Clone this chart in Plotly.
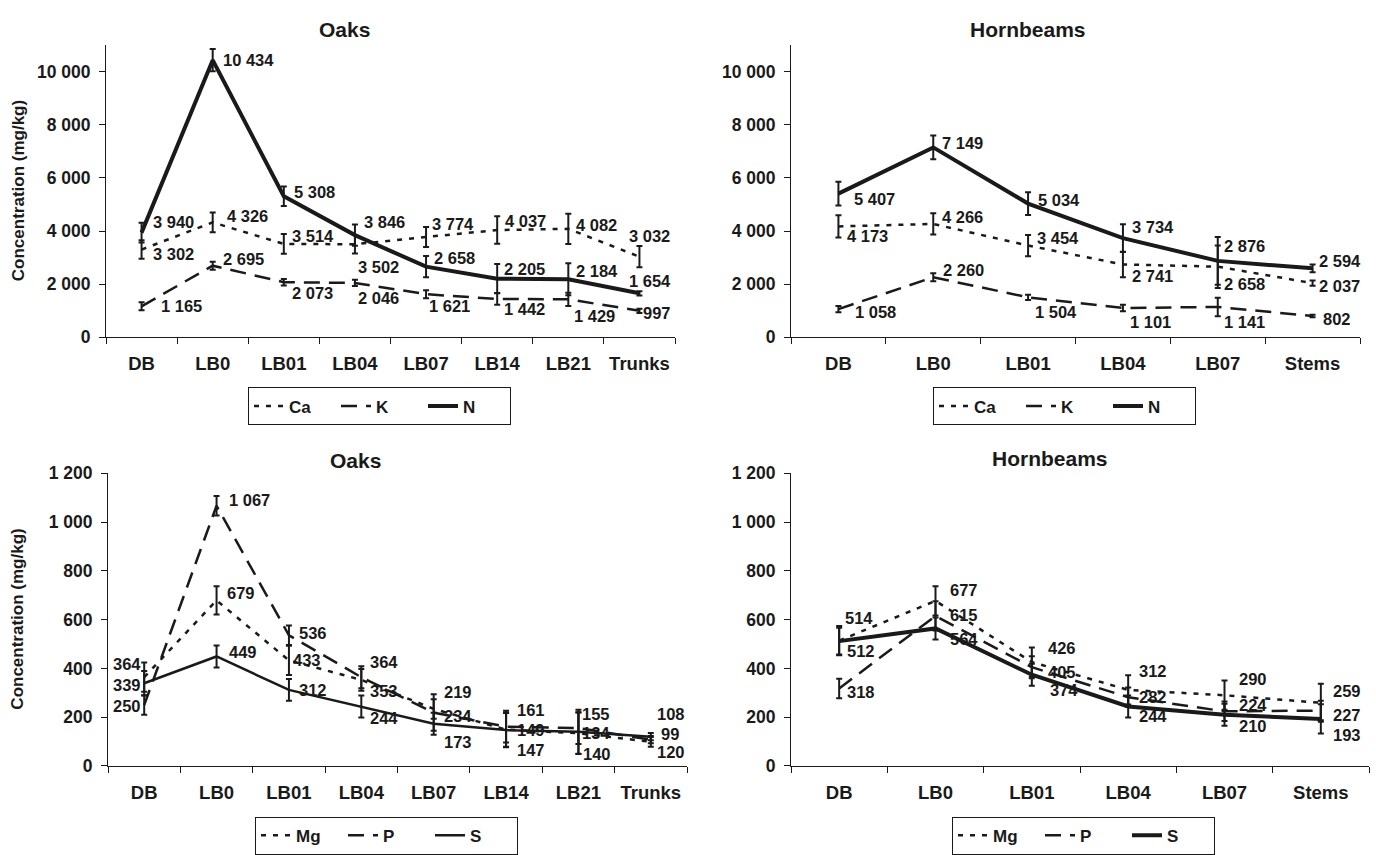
import plotly.graph_objects as go

# ---------------- DATA ----------------
cats_oaks = ["DB", "LB0", "LB01", "LB04", "LB07", "LB14", "LB21", "Trunks"]
cats_horn = ["DB", "LB0", "LB01", "LB04", "LB07", "Stems"]

# Top-left: Oaks (Ca, K, N)
oak_ca = [3302, 4326, 3514, 3502, 3774, 4037, 4082, 3032]
oak_k = [1165, 2695, 2073, 2046, 1621, 1442, 1429, 997]
oak_n = [3940, 10434, 5308, 3846, 2658, 2205, 2184, 1654]
oak_ca_err = [350, 370, 370, 350, 380, 520, 570, 400]
oak_k_err = [150, 150, 120, 120, 150, 220, 250, 80]
oak_n_err = [370, 420, 370, 400, 400, 550, 600, 80]

# Top-right: Hornbeams (Ca, K, N)
horn_ca = [4173, 4266, 3454, 2741, 2658, 2037]
horn_k = [1058, 2260, 1504, 1101, 1141, 802]
horn_n = [5407, 7149, 5034, 3734, 2876, 2594]
horn_ca_err = [420, 400, 400, 480, 800, 100]
horn_k_err = [120, 150, 100, 120, 350, 50]
horn_n_err = [450, 450, 430, 520, 900, 150]

# Bottom-left: Oaks (Mg, P, S)
oak_mg = [364, 679, 433, 353, 234, 149, 134, 99]
oak_p = [250, 1067, 536, 364, 219, 161, 155, 108]
oak_s = [339, 449, 312, 244, 173, 147, 140, 120]
oak_mg_err = [60, 58, 60, 45, 40, 70, 85, 20]
oak_p_err = [40, 40, 40, 45, 75, 65, 65, 15]
oak_s_err = [50, 45, 45, 45, 45, 70, 90, 15]

# Bottom-right: Hornbeams (Mg, P, S)
horn_mg = [514, 677, 426, 312, 290, 259]
horn_p = [318, 615, 405, 282, 224, 227]
horn_s = [512, 564, 374, 244, 210, 193]
horn_mg_err = [60, 60, 60, 60, 60, 78]
horn_p_err = [40, 60, 45, 40, 40, 40]
horn_s_err = [55, 45, 45, 45, 45, 60]

top_ticks = [0, 2000, 4000, 6000, 8000, 10000]
bottom_ticks = [0, 200, 400, 600, 800, 1000, 1200]

# ---------------- STYLE ----------------
W, H = 1376, 855
FONT = "Liberation Sans, Arial, sans-serif"
INK = "#1a1a1a"
DOT = "5px,7px"
LDASH = "16px,9px"

def fmt(v):
    return f"{v:,}".replace(",", " ")

def px_x(p):
    return p / W

def px_y(p):
    return 1 - p / H

# label offsets (pixels): (xshift list, yshift list)
offsets = {
    "oak_n": ([9, 8, 8, 7, 6, 5, 6, -12], [11, 0, 4, 13, 9, 10, 8, 12]),
    "oak_ca": ([9, 12, 6, 1, 4, 6, 6, -12], [-4, 6, 8, -23, 13, 9, 4, 21]),
    "oak_k": ([17, 8, 6, 1, 1, 5, 4, 2], [0, 7, -11, -15, -12, -10, -17, -2]),
    "horn_n": ([14, 7, 8, 7, 4, 4], [-5, 4, 4, 11, 15, 7]),
    "horn_ca": ([7, 7, 7, 7, 4, 4], [-10, 7, 8, -12, -17, -3]),
    "horn_k": ([15, 8, 5, 5, 4, 8], [-3, 7, -15, -14, -15, -3]),
    "oak_mg": ([-33, 8, 2, 7, 8, 9, 2, 8], [13, 7, 0, -11, -7, 0, 0, 8]),
    "oak_p": ([-33, 10, 8, 7, 8, 9, 2, 4], [-1, 6, 2, 15, 21, 17, 14, 26]),
    "oak_s": ([-33, 10, 8, 7, 8, 9, 3, 4], [-2, 4, 0, -12, -18, -20, -22, -15]),
    "horn_mg": ([4, 12, 14, 9, 12, 10], [23, 11, 14, 19, 16, 12]),
    "horn_p": ([6, 12, 14, 9, 12, 10], [-4, 1, -5, 0, 6, -4]),
    "horn_s": ([6, 12, 16, 9, 12, 10], [-10, -11, -15, -10, -11, -16]),
}

panels = [
    dict(ax="", cats=cats_oaks, ymax=11000, ticks=top_ticks, legend="legend",
         xd=(106, 675), yd=(36, 335.5), leg=(248, 387),
         series=[("Ca", oak_ca, oak_ca_err, "oak_ca", DOT, 2.5),
                 ("K", oak_k, oak_k_err, "oak_k", LDASH, 2.5),
                 ("N", oak_n, oak_n_err, "oak_n", "solid", 4)]),
    dict(ax="2", cats=cats_horn, ymax=11000, ticks=top_ticks, legend="legend2",
         xd=(791, 1360), yd=(36, 335.5), leg=(933, 387),
         series=[("Ca", horn_ca, horn_ca_err, "horn_ca", DOT, 2.5),
                 ("K", horn_k, horn_k_err, "horn_k", LDASH, 2.5),
                 ("N", horn_n, horn_n_err, "horn_n", "solid", 4)]),
    dict(ax="3", cats=cats_oaks, ymax=1200, ticks=bottom_ticks, legend="legend3",
         xd=(108, 687), yd=(475, 775), leg=(255, 827),
         series=[("Mg", oak_mg, oak_mg_err, "oak_mg", DOT, 2.5),
                 ("P", oak_p, oak_p_err, "oak_p", LDASH, 2.5),
                 ("S", oak_s, oak_s_err, "oak_s", "solid", 2.5)]),
    dict(ax="4", cats=cats_horn, ymax=1200, ticks=bottom_ticks, legend="legend4",
         xd=(791, 1369), yd=(475, 775), leg=(952, 827),
         series=[("Mg", horn_mg, horn_mg_err, "horn_mg", DOT, 2.5),
                 ("P", horn_p, horn_p_err, "horn_p", LDASH, 2.5),
                 ("S", horn_s, horn_s_err, "horn_s", "solid", 4)]),
]

titles = [("Oaks", 344, 20), ("Hornbeams", 1028, 20), ("Oaks", 355, 462), ("Hornbeams", 1050, 460)]

fig = go.Figure()
annotations = []
layout = dict(
    width=W, height=H,
    margin=dict(l=0, r=0, t=0, b=0),
    paper_bgcolor="white", plot_bgcolor="white",
    font=dict(family=FONT, size=16, color=INK, weight="bold"),
    showlegend=True,
)

for p in panels:
    xa = "x" + p["ax"]
    ya = "y" + p["ax"]
    for name, vals, errs, key, dash, w in p["series"]:
        fig.add_trace(go.Scatter(
            x=p["cats"], y=vals, name=name, mode="lines",
            xaxis=xa, yaxis=ya, legend=p["legend"],
            line=dict(color=INK, width=w, dash=dash),
            error_y=dict(type="data", array=errs, visible=True,
                         color=INK, thickness=2, width=3),
            hoverinfo="skip",
        ))
        xs, ys = offsets[key]
        for c, v, dx, dy in zip(p["cats"], vals, xs, ys):
            annotations.append(dict(
                x=c, y=v, xref=xa, yref=ya, text=fmt(v), showarrow=False,
                xanchor="left", yanchor="middle", xshift=dx, yshift=dy,
                font=dict(family=FONT, size=16.5, color=INK, weight="bold"),
            ))
    n = len(p["cats"])
    layout["xaxis" + p["ax"]] = dict(
        domain=[px_x(p["xd"][0]), px_x(p["xd"][1])], anchor=ya,
        type="category", range=[-0.5, n - 0.5], tickson="boundaries",
        ticks="outside", ticklen=6, tickcolor=INK, tickwidth=1,
        showline=True, linecolor=INK, linewidth=1, showgrid=False,
        zeroline=False, ticklabelstandoff=10,
        tickfont=dict(family=FONT, size=18.5, color=INK, weight="bold"),
    )
    layout["yaxis" + p["ax"]] = dict(
        domain=[px_y(p["yd"][1]), px_y(p["yd"][0])], anchor=xa,
        range=[0, p["ymax"]], tickvals=p["ticks"], ticktext=[fmt(t) for t in p["ticks"]],
        ticks="outside", ticklen=6, tickcolor=INK, tickwidth=1,
        showline=True, linecolor=INK, linewidth=1, showgrid=False,
        zeroline=False, ticklabelstandoff=5,
        tickfont=dict(family=FONT, size=17.5, color=INK, weight="bold"),
    )
    layout[p["legend"]] = dict(
        x=px_x(p["leg"][0]), y=px_y(p["leg"][1]), xanchor="left", yanchor="top",
        xref="paper", yref="paper",
        orientation="h", bordercolor=INK, borderwidth=1, bgcolor="white",
        font=dict(family=FONT, size=17, color=INK, weight="bold"),
        itemwidth=30, entrywidth=42, entrywidthmode="pixels",
        tracegroupgap=0,
    )

for t, x, y in titles:
    annotations.append(dict(
        x=px_x(x), y=px_y(y), xref="paper", yref="paper", text=t, showarrow=False,
        xanchor="center", yanchor="middle",
        font=dict(family=FONT, size=21, color=INK, weight="bold"),
    ))

for yc in [(36 + 335.5) / 2, (475 + 775) / 2]:
    annotations.append(dict(
        x=px_x(18), y=px_y(yc), xref="paper", yref="paper",
        text="Concentration (mg/kg)", showarrow=False, textangle=-90,
        xanchor="center", yanchor="middle",
        font=dict(family=FONT, size=17, color=INK, weight="bold"),
    ))

layout["annotations"] = annotations
fig.update_layout(**layout)
fig.write_html(
    "out.html",
    config={"displayModeBar": False},
    post_script="document.body.style.margin='0';document.body.style.overflow='hidden';",
)
